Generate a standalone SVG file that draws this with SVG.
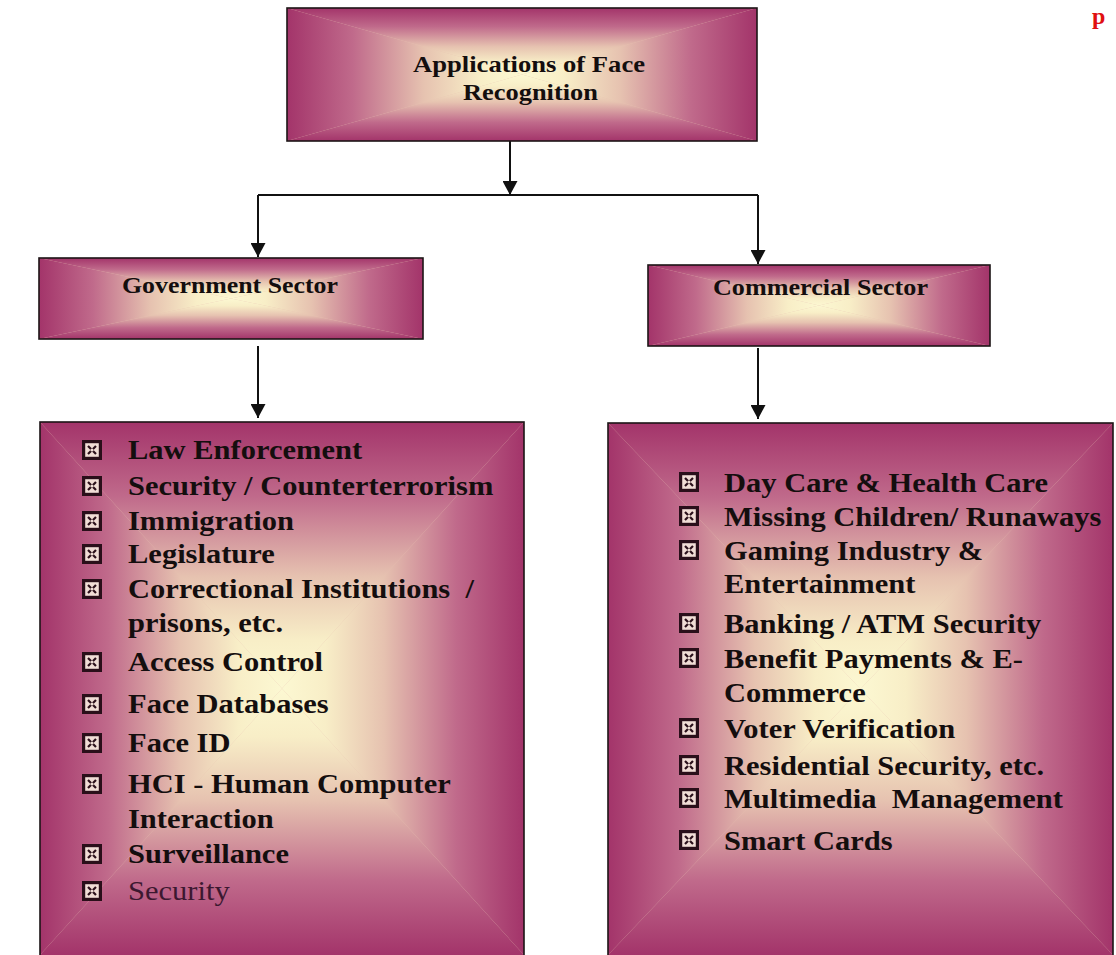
<svg xmlns="http://www.w3.org/2000/svg" xmlns:xlink="http://www.w3.org/1999/xlink" width="1116" height="955" viewBox="0 0 1116 955">
  <defs>
    <style>
      .base { fill: #e7c0b0; }
      .edge { fill: none; stroke: #1c1416; stroke-width: 1.6; }
      .t { fill: url(#gT); }
      .b { fill: url(#gB); }
      .l { fill: url(#gL); }
      .r { fill: url(#gR); }
      .head { font-family: "Liberation Serif", "Times New Roman", serif; font-weight: bold; font-size: 24px; fill: #140e0e; }
      .item { font-family: "Liberation Serif", "Times New Roman", serif; font-weight: bold; font-size: 27px; fill: #140e0e; white-space: pre; }
      .plain { font-weight: normal; fill: #3c1830; }
      .wire { fill: none; stroke: #111; stroke-width: 2; }
      .mark { font-family: "Liberation Serif", "Times New Roman", serif; font-weight: bold; font-size: 24px; fill: #e01010; }
    </style>
    <!-- rectangular "from centre" shading built from four edge-to-centre triangles -->
    <linearGradient id="shade">
      <stop offset="0" stop-color="#a3346a"/>
      <stop offset="0.28" stop-color="#c06a8b"/>
      <stop offset="0.58" stop-color="#e6c2b0"/>
      <stop offset="0.82" stop-color="#f8eec7"/>
      <stop offset="1" stop-color="#fcf8d2"/>
    </linearGradient>
    <linearGradient id="gT" xlink:href="#shade" x1="0" y1="0" x2="0" y2="1"/>
    <linearGradient id="gB" xlink:href="#shade" x1="0" y1="1" x2="0" y2="0"/>
    <linearGradient id="gL" xlink:href="#shade" x1="0" y1="0" x2="1" y2="0"/>
    <linearGradient id="gR" xlink:href="#shade" x1="1" y1="0" x2="0" y2="0"/>
    <marker id="arrow" markerUnits="userSpaceOnUse" markerWidth="15" markerHeight="15" refX="14" refY="7.5" orient="auto">
      <path d="M0,0 L14,7.5 L0,15 Z" fill="#111"/>
    </marker>
    <!-- boxed-cross bullet -->
    <symbol id="bx" viewBox="0 0 20 20">
      <rect x="1.6" y="1.6" width="16.8" height="16.8" fill="#f1ddd6" stroke="#2a0f1a" stroke-width="3.2"/>
      <path d="M6,6 L14,14 M14,6 L6,14" stroke="#2a0f1a" stroke-width="2.2"/>
      <circle cx="10" cy="10" r="1.6" fill="#f1ddd6"/>
    </symbol>
  </defs>

  <rect width="1116" height="955" fill="#ffffff"/>
  <text class="mark" x="1092" y="24">p</text>

  <!-- connectors -->
  <g id="connectors">
    <path class="wire" d="M510,141 L510,195" marker-end="url(#arrow)"/>
    <path class="wire" d="M258,195 L758,195"/>
    <path class="wire" d="M258,195 L258,257" marker-end="url(#arrow)"/>
    <path class="wire" d="M758,195 L758,264" marker-end="url(#arrow)"/>
    <path class="wire" d="M258,346 L258,418" marker-end="url(#arrow)"/>
    <path class="wire" d="M758,348 L758,419" marker-end="url(#arrow)"/>
  </g>

  <!-- root -->
  <g id="root">
    <rect class="base" x="287" y="8" width="470" height="133"/>
    <polygon class="t" points="287,8 757,8 522,74.5"/>
    <polygon class="b" points="287,141 757,141 522,74.5"/>
    <polygon class="l" points="287,8 287,141 522,74.5"/>
    <polygon class="r" points="757,8 757,141 522,74.5"/>
    <rect class="edge" x="287" y="8" width="470" height="133"/>
    <text class="head" x="413" y="72" textLength="232" lengthAdjust="spacingAndGlyphs">Applications of Face</text>
    <text class="head" x="463" y="100" textLength="135" lengthAdjust="spacingAndGlyphs">Recognition</text>
  </g>

  <!-- government sector -->
  <g id="government">
    <rect class="base" x="39" y="258" width="384" height="81"/>
    <polygon class="t" points="39,258 423,258 231,298.5"/>
    <polygon class="b" points="39,339 423,339 231,298.5"/>
    <polygon class="l" points="39,258 39,339 231,298.5"/>
    <polygon class="r" points="423,258 423,339 231,298.5"/>
    <rect class="edge" x="39" y="258" width="384" height="81"/>
    <text class="head" x="122" y="293" textLength="216" lengthAdjust="spacingAndGlyphs">Government Sector</text>
  </g>

  <!-- commercial sector -->
  <g id="commercial">
    <rect class="base" x="648" y="265" width="342" height="81"/>
    <polygon class="t" points="648,265 990,265 819,305.5"/>
    <polygon class="b" points="648,346 990,346 819,305.5"/>
    <polygon class="l" points="648,265 648,346 819,305.5"/>
    <polygon class="r" points="990,265 990,346 819,305.5"/>
    <rect class="edge" x="648" y="265" width="342" height="81"/>
    <text class="head" x="713" y="295" textLength="215" lengthAdjust="spacingAndGlyphs">Commercial Sector</text>
  </g>

  <!-- government applications list -->
  <g id="government-list">
    <rect class="base" x="40" y="422" width="484" height="533"/>
    <polygon class="t" points="40,422 524,422 282,688.5"/>
    <polygon class="b" points="40,955 524,955 282,688.5"/>
    <polygon class="l" points="40,422 40,955 282,688.5"/>
    <polygon class="r" points="524,422 524,955 282,688.5"/>
    <rect class="edge" x="40" y="422" width="484" height="540"/>
    <g>
      <use href="#bx" x="82" y="440" width="20" height="20"/>
      <use href="#bx" x="82" y="476" width="20" height="20"/>
      <use href="#bx" x="82" y="511" width="20" height="20"/>
      <use href="#bx" x="82" y="544" width="20" height="20"/>
      <use href="#bx" x="82" y="579" width="20" height="20"/>
      <use href="#bx" x="82" y="652" width="20" height="20"/>
      <use href="#bx" x="82" y="694" width="20" height="20"/>
      <use href="#bx" x="82" y="733" width="20" height="20"/>
      <use href="#bx" x="82" y="774" width="20" height="20"/>
      <use href="#bx" x="82" y="844" width="20" height="20"/>
      <use href="#bx" x="82" y="881" width="20" height="20"/>
    </g>
    <g transform="translate(128 0) scale(1.13 1)">
      <text class="item" x="0" y="459">Law Enforcement</text>
      <text class="item" x="0" y="495">Security / Counterterrorism</text>
      <text class="item" x="0" y="530">Immigration</text>
      <text class="item" x="0" y="563">Legislature</text>
      <text class="item" x="0" y="598">Correctional Institutions  /</text>
      <text class="item" x="0" y="632">prisons, etc.</text>
      <text class="item" x="0" y="671">Access Control</text>
      <text class="item" x="0" y="713">Face Databases</text>
      <text class="item" x="0" y="752">Face ID</text>
      <text class="item" x="0" y="793">HCI - Human Computer</text>
      <text class="item" x="0" y="828">Interaction</text>
      <text class="item" x="0" y="863">Surveillance</text>
      <text class="item plain" x="0" y="900">Security</text>
    </g>
  </g>

  <!-- commercial applications list -->
  <g id="commercial-list">
    <rect class="base" x="608" y="423" width="505" height="532"/>
    <polygon class="t" points="608,423 1113,423 860.5,689"/>
    <polygon class="b" points="608,955 1113,955 860.5,689"/>
    <polygon class="l" points="608,423 608,955 860.5,689"/>
    <polygon class="r" points="1113,423 1113,955 860.5,689"/>
    <rect class="edge" x="608" y="423" width="505" height="540"/>
    <g>
      <use href="#bx" x="679" y="472" width="20" height="20"/>
      <use href="#bx" x="679" y="506" width="20" height="20"/>
      <use href="#bx" x="679" y="540" width="20" height="20"/>
      <use href="#bx" x="679" y="613" width="20" height="20"/>
      <use href="#bx" x="679" y="648" width="20" height="20"/>
      <use href="#bx" x="679" y="718" width="20" height="20"/>
      <use href="#bx" x="679" y="755" width="20" height="20"/>
      <use href="#bx" x="679" y="788" width="20" height="20"/>
      <use href="#bx" x="679" y="830" width="20" height="20"/>
    </g>
    <g transform="translate(724 0) scale(1.13 1)">
      <text class="item" x="0" y="492">Day Care &amp; Health Care</text>
      <text class="item" x="0" y="526">Missing Children/ Runaways</text>
      <text class="item" x="0" y="560">Gaming Industry &amp;</text>
      <text class="item" x="0" y="593">Entertainment</text>
      <text class="item" x="0" y="633">Banking / ATM Security</text>
      <text class="item" x="0" y="668">Benefit Payments &amp; E-</text>
      <text class="item" x="0" y="702">Commerce</text>
      <text class="item" x="0" y="738">Voter Verification</text>
      <text class="item" x="0" y="775">Residential Security, etc.</text>
      <text class="item" x="0" y="808">Multimedia  Management</text>
      <text class="item" x="0" y="850">Smart Cards</text>
    </g>
  </g>
</svg>
